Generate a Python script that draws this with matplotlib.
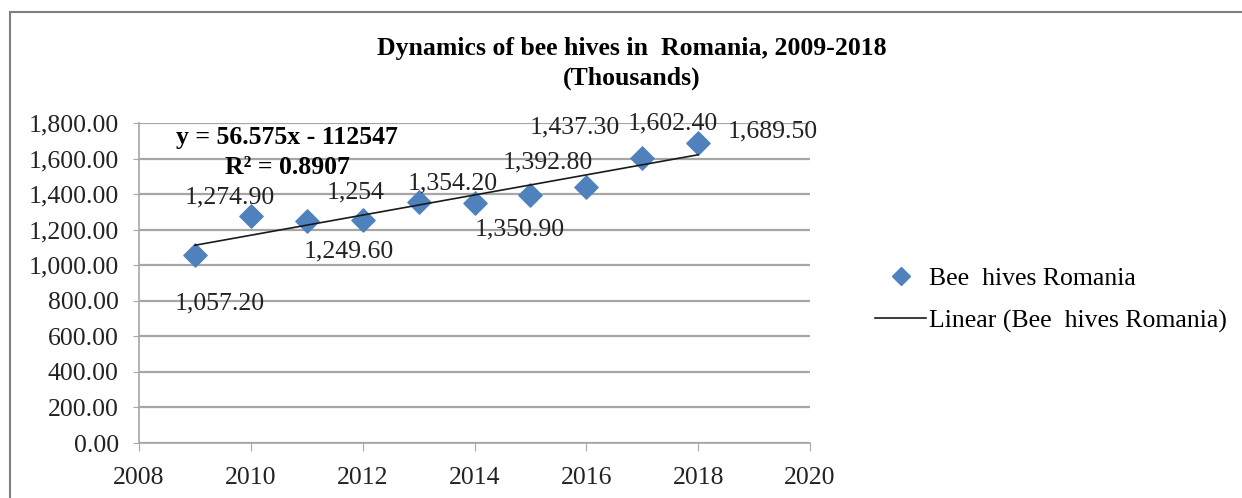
import matplotlib as mpl
mpl.use('Agg')
import matplotlib.pyplot as plt
from matplotlib.lines import Line2D
from matplotlib.patches import Rectangle
from matplotlib.ticker import FuncFormatter
import numpy as np

years = [2009, 2010, 2011, 2012, 2013, 2014, 2015, 2016, 2017, 2018]
hives = [1057.2, 1274.9, 1249.6, 1254.0, 1354.2, 1350.9, 1392.8, 1437.3, 1602.4, 1689.5]
point_labels = ["1,057.20", "1,274.90", "1,249.60", "1,254", "1,354.20",
                "1,350.90", "1,392.80", "1,437.30", "1,602.40", "1,689.50"]
# where each data label sits relative to its point (pixels)
label_offsets = [(25, -48), (-21, 19), (42, -31), (-7, 28), (34, 19),
                 (45, -27), (17, 33), (-12, 60), (31, 35), (75, 11)]

# excel linear trendline
slope = 56.575
intercept = -112547
r_squared = 0.8907

FS = 18.5
plt.rcParams['font.family'] = ['Liberation Serif', 'DejaVu Serif']

fig = plt.figure(figsize=(12.42, 4.98), dpi=100)
fig.patches.append(Rectangle((10 / 1242, -0.1), 1.2, 1 - 12 / 498 + 0.1,
                             transform=fig.transFigure, fill=False,
                             edgecolor='#7f7f7f', linewidth=1.5))

ax = fig.add_axes([139 / 1242, 1 - 443 / 498, 671 / 1242, 320 / 498])

ax.scatter(years, hives, marker='D', s=140, color='#4f81bd', zorder=3,
           label='Bee  hives Romania')
trend_x = np.array([years[0], years[-1]])
ax.plot(trend_x, slope * trend_x + intercept, color='#1a1a1a', lw=1.2,
        zorder=4, label='Linear (Bee  hives Romania)')

for x, y, txt, off in zip(years, hives, point_labels, label_offsets):
    ax.annotate(txt, (x, y), xytext=off, textcoords='offset pixels',
                ha='center', va='center', fontsize=FS, color='#222222')

ax.text(0.2206, 0.956, f"y = {slope:.3f}x - {abs(intercept):d}",
        transform=ax.transAxes, ha='center', va='center',
        fontsize=FS, fontweight='bold')
ax.text(0.2206, 0.862, f"R² = {r_squared:.4f}", transform=ax.transAxes,
        ha='center', va='center', fontsize=FS, fontweight='bold')

ax.set_xlim(2008, 2020)
ax.set_ylim(0, 1800)
ax.set_xticks(range(2008, 2021, 2))
ax.set_yticks(range(0, 1801, 200))
ax.yaxis.set_major_formatter(FuncFormatter(lambda v, p: f"{v:,.2f}"))
ax.grid(axis='y', color='#a6a6a6', lw=1.6)
ax.set_axisbelow(True)
for side in ['top', 'right']:
    ax.spines[side].set_visible(False)
for side in ['left', 'bottom']:
    ax.spines[side].set_color('#a6a6a6')
    ax.spines[side].set_linewidth(1.2)
ax.tick_params(axis='both', direction='out', color='#a6a6a6',
               labelsize=FS, labelcolor='#222222')
ax.tick_params(axis='y', length=4.5, pad=10)
ax.tick_params(axis='x', length=6, pad=11)

fig.text(632 / 1242, 1 - 48 / 498, "Dynamics of bee hives in  Romania, 2009-2018",
         ha='center', va='center', fontsize=FS, fontweight='bold')
fig.text(632 / 1242, 1 - 78 / 498, "(Thousands)",
         ha='center', va='center', fontsize=FS, fontweight='bold')

handles = [Line2D([], [], marker='D', ls='none', color='#4f81bd', markersize=9),
           Line2D([], [], color='#1a1a1a', lw=1.2)]
fig.legend(handles, ['Bee  hives Romania', 'Linear (Bee  hives Romania)'],
           loc='center left', bbox_to_anchor=(875 / 1242, 1 - 300 / 498),
           frameon=False, fontsize=FS, handlelength=2.0, handletextpad=0.12,
           labelspacing=0.75, borderpad=0, borderaxespad=0)

fig.savefig('out.png', dpi=100)
